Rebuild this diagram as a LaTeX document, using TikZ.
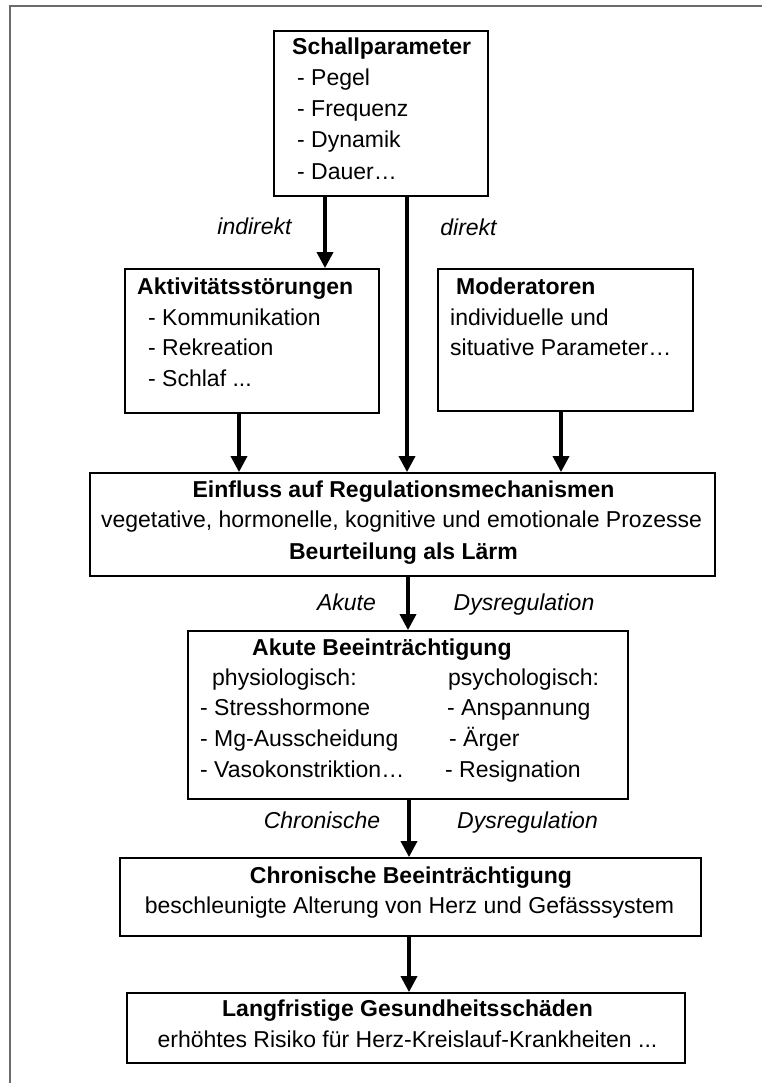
\documentclass[tikz,border=0pt]{standalone}
\usepackage{fontspec}
\setmainfont{Liberation Sans}
\usetikzlibrary{arrows.meta}
\tikzset{
  boxnode/.style={draw, line width=1.8pt, inner sep=0pt},
  txt/.style={inner sep=0pt, text height=16pt, text depth=0pt, font=\fontsize{23}{27}\selectfont},
  lt/.style={txt, anchor=west},
  ct/.style={txt, anchor=center},
  arr/.style={line width=3.5pt, -{Triangle[width=16pt,length=16pt]}},
  frame/.style={draw=gray!85!black, line width=2.5pt}
}
\begin{document}
\begin{tikzpicture}[x=1pt,y=-1pt]
\fill[white] (0,0) rectangle (762,1083);
\useasboundingbox (0,0) rectangle (762,1083);
% outer frame (top and left edges)
\coordinate (fa) at (10,1083);
\coordinate (fb) at (10,6);
\coordinate (fc) at (762,6);
\draw[frame] (fa) -- (fb) -- (fc);

% boxes
\node[boxnode, minimum width=214pt, minimum height=165pt] (schall) at (381,113.5) {};
\node[boxnode, minimum width=254pt, minimum height=144pt] (aktiv) at (252,341) {};
\node[boxnode, minimum width=255pt, minimum height=142pt] (moder) at (565.5,340) {};
\node[boxnode, minimum width=625pt, minimum height=103pt] (einfl) at (402.5,524.5) {};
\node[boxnode, minimum width=440pt, minimum height=168pt] (akute) at (408,715) {};
\node[boxnode, minimum width=581pt, minimum height=78pt] (chron) at (410.5,897) {};
\node[boxnode, minimum width=558pt, minimum height=70pt] (lang) at (406,1028) {};

% Schallparameter
\node[lt, font=\fontsize{23}{27}\selectfont\bfseries] (s0) at (292,47) {Schallparameter};
\node[lt] (s1) at (297,78) {- Pegel};
\node[lt] (s2) at (297,109) {- Frequenz};
\node[lt] (s3) at (297,140) {- Dynamik};
\node[lt] (s4) at (297,172) {- Dauer…};

% Aktivitaetsstoerungen
\node[lt, font=\fontsize{23}{27}\selectfont\bfseries] (a0) at (137,286) {Aktivitätsstörungen};
\node[lt] (a1) at (148,317) {- Kommunikation};
\node[lt] (a2) at (148,347) {- Rekreation};
\node[lt] (a3) at (148,378) {- Schlaf ...};

% Moderatoren
\node[lt, font=\fontsize{23}{27}\selectfont\bfseries] (m0) at (456,286) {Moderatoren};
\node[lt] (m1) at (450,317) {individuelle und};
\node[lt] (m2) at (450,347) {situative Parameter…};

% Einfluss
\node[ct, font=\fontsize{23}{27}\selectfont\bfseries] (e0) at (403.5,489) {Einfluss auf Regulationsmechanismen};
\node[ct] (e1) at (401.5,519) {vegetative, hormonelle, kognitive und emotionale Prozesse};
\node[ct, font=\fontsize{23}{27}\selectfont\bfseries] (e2) at (403.5,551) {Beurteilung als Lärm};

% Akute
\node[lt, font=\fontsize{23}{27}\selectfont\bfseries] (k0) at (252,647) {Akute Beeinträchtigung};
\node[lt] (k1) at (212,677) {physiologisch:};
\node[lt] (k2) at (448,677) {psychologisch:};
\node[lt] (k3) at (200,707) {- Stresshormone};
\node[lt] (k4) at (447,707) {- Anspannung};
\node[lt] (k5) at (200,738) {- Mg-Ausscheidung};
\node[lt] (k6) at (449,738) {- Ärger};
\node[lt] (k7) at (200,769) {- Vasokonstriktion…};
\node[lt] (k8) at (445,769) {- Resignation};

% Chronische
\node[ct, font=\fontsize{23}{27}\selectfont\bfseries] (c0) at (411,875) {Chronische Beeinträchtigung};
\node[ct] (c1) at (409.5,905) {beschleunigte Alterung von Herz und Gefässsystem};

% Langfristige
\node[ct, font=\fontsize{23}{27}\selectfont\bfseries] (l0) at (407.5,1008) {Langfristige Gesundheitsschäden};
\node[ct] (l1) at (407.5,1039) {erhöhtes Risiko für Herz-Kreislauf-Krankheiten ...};

% connector labels
\node[ct, font=\fontsize{23}{27}\selectfont\itshape] (lind) at (254.5,227) {indirekt};
\node[ct, font=\fontsize{23}{27}\selectfont\itshape] (ldir) at (468.5,228) {direkt};
\node[ct, font=\fontsize{23}{27}\selectfont\itshape] (lak1) at (346.5,602) {Akute};
\node[ct, font=\fontsize{23}{27}\selectfont\itshape] (lak2) at (524,602) {Dysregulation};
\node[ct, font=\fontsize{23}{27}\selectfont\itshape] (lch1) at (322,820) {Chronische};
\node[ct, font=\fontsize{23}{27}\selectfont\itshape] (lch2) at (527.5,820) {Dysregulation};

% connectors
\draw[arr] (325,0 |- schall.south) -- (325,0 |- aktiv.north);
\draw[arr] (407,0 |- schall.south) -- (407,0 |- einfl.north);
\draw[arr] (239,0 |- aktiv.south) -- (239,0 |- einfl.north);
\draw[arr] (561,0 |- moder.south) -- (561,0 |- einfl.north);
\draw[arr] (408,0 |- einfl.south) -- (408,0 |- akute.north);
\draw[arr] (409,0 |- akute.south) -- (409,0 |- chron.north);
\draw[arr] (409,0 |- chron.south) -- (409,0 |- lang.north);
\end{tikzpicture}
\end{document}
